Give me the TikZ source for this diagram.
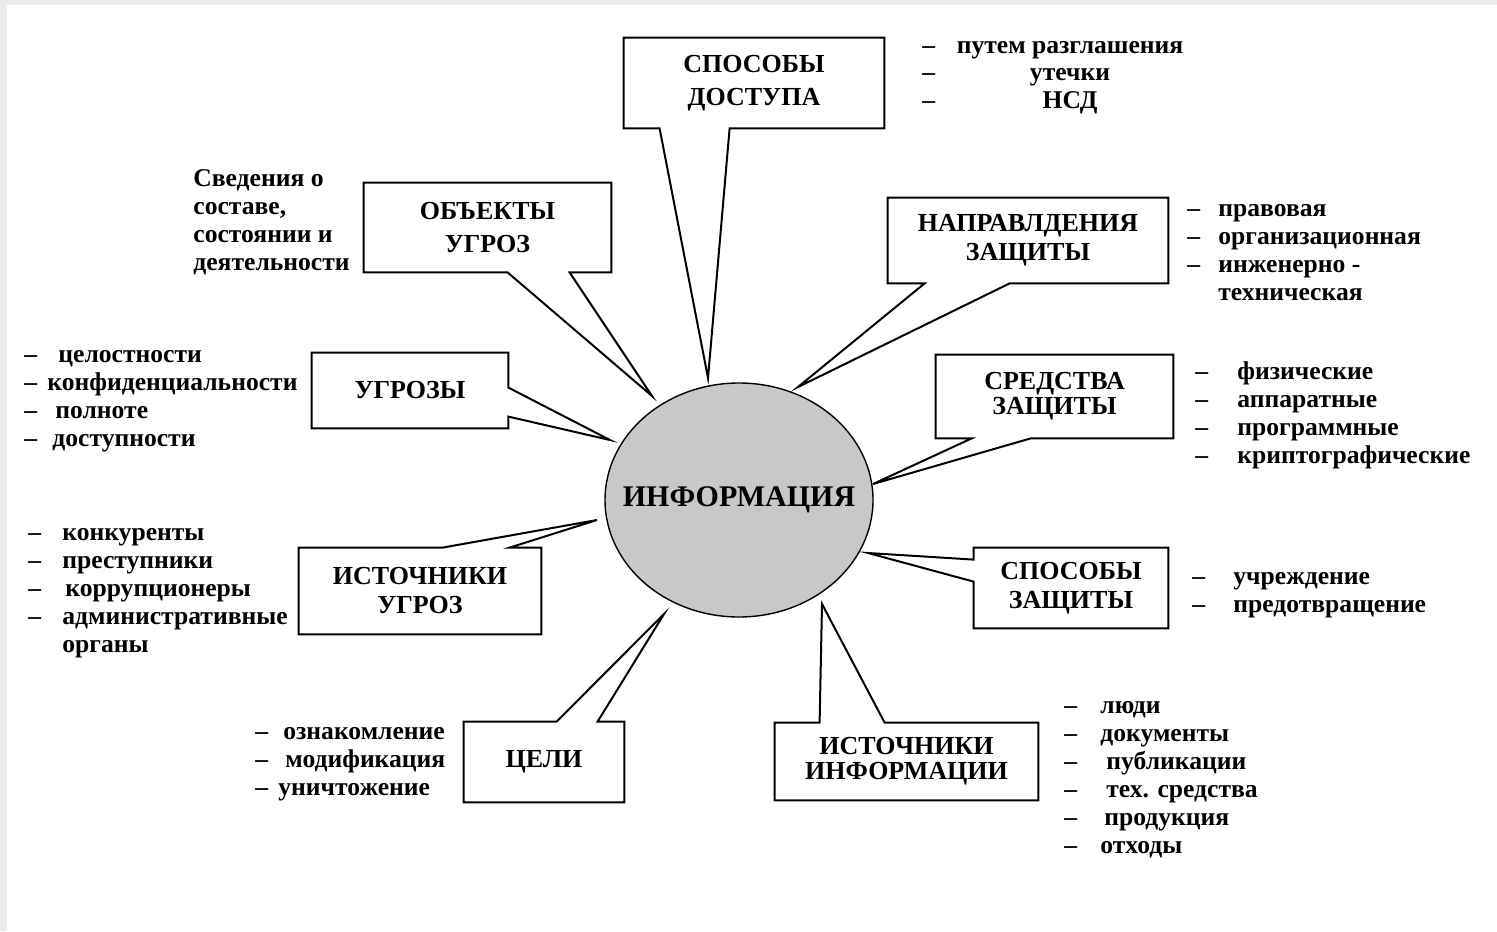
\documentclass[tikz,border=0pt]{standalone}
\usepackage{fontspec}
\setmainfont{Liberation Serif}
\usetikzlibrary{shapes.geometric,calc}
\definecolor{infogray}{RGB}{200,200,200}
\definecolor{framegray}{RGB}{235,235,235}

\begin{document}
\begin{tikzpicture}[x=0.5pt,y=-0.5pt,
  box/.style={inner sep=0pt,align=center,font=\bfseries\fontsize{13}{14.5}\selectfont},
  lst/.style={inner sep=0pt,align=left,anchor=base west,font=\bfseries\fontsize{12.8}{14}\selectfont},
  outl/.style={line width=1pt,line join=miter}]
  \useasboundingbox (0,0) rectangle (1497,931);
  \fill[framegray] (0,0) rectangle (1497,931);
  \fill[white] (7,5) rectangle (1497,931);
  % central node
  \node[ellipse,draw,line width=0.7pt,fill=infogray,minimum width=134pt,minimum height=117pt,inner sep=0pt] (info) at (739,500) {};
  \node[font=\bfseries\fontsize{15}{18}\selectfont,inner sep=0pt] (infot) at (info.center) {ИНФОРМАЦИЯ};
  % tips of the callouts
  \coordinate (t1) at (708,378);
  \coordinate (t2) at (652,396);
  \coordinate (t3) at (798,387);
  \coordinate (t4) at (610,440);
  \coordinate (t5) at (873,484);
  \coordinate (t6) at (868,553);
  \coordinate (t7) at (597,520);
  \coordinate (t8) at (664,614);
  \coordinate (t9) at (822,604);
  % upper callouts
  \node[box,minimum width=130pt,minimum height=45pt] (dost) at (754,83) {СПОСОБЫ\\[2pt]ДОСТУПА};
  \draw[outl] (dost.north west) -- (dost.north east) -- (dost.south east) -- ($(dost.south west)+(106,0)$)
        -- (t1) -- ($(dost.south west)+(36,0)$) -- (dost.south west) -- cycle;
  \node[box,minimum width=123.5pt,minimum height=44.5pt] (obj) at (487.5,227.5) {ОБЪЕКТЫ\\[2pt]УГРОЗ};
  \draw[outl] (obj.north west) -- (obj.north east) -- (obj.south east) -- ($(obj.south west)+(206,0)$)
        -- (t2) -- ($(obj.south west)+(144,0)$) -- (obj.south west) -- cycle;
  \node[box,minimum width=140pt,minimum height=42.5pt] (napr) at (1028,240.5) {НАПРАВЛДЕНИЯ\\ЗАЩИТЫ};
  \draw[outl] (napr.north west) -- (napr.north east) -- (napr.south east) -- ($(napr.south west)+(122,0)$)
        -- (t3) -- ($(napr.south west)+(37,0)$) -- (napr.south west) -- cycle;
  \node[box,minimum width=98pt,minimum height=37.5pt] (ugr) at (410,390.5) {УГРОЗЫ};
  \draw[outl] (ugr.north west) -- (ugr.north east) -- ($(ugr.north east)+(0,35)$) -- (t4)
        -- ($(ugr.north east)+(0,64)$) -- (ugr.south east) -- (ugr.south west) -- cycle;
  \node[box,minimum width=118.5pt,minimum height=41.5pt] (sredst) at (1054.5,396.5) {СРЕДСТВА\\[-2pt]ЗАЩИТЫ};
  \draw[outl] (sredst.north west) -- (sredst.north east) -- (sredst.south east) -- ($(sredst.south west)+(95,0)$)
        -- (t5) -- ($(sredst.south west)+(36,0)$) -- (sredst.south west) -- cycle;
  % lower callouts
  \node[box,minimum width=97pt,minimum height=40pt] (spzasch) at (1071,588) {СПОСОБЫ\\ЗАЩИТЫ};
  \draw[outl] (spzasch.north west) -- (spzasch.north east) -- (spzasch.south east) -- (spzasch.south west)
        -- ($(spzasch.north west)+(0,34)$) -- (t6) -- ($(spzasch.north west)+(0,12)$) -- cycle;
  \node[box,minimum width=121pt,minimum height=43pt] (istugr) at (420,591) {ИСТОЧНИКИ\\УГРОЗ};
  \draw[outl] (istugr.north west) -- ($(istugr.north west)+(144,0)$) -- (t7) -- ($(istugr.north west)+(211,0)$)
        -- (istugr.north east) -- (istugr.south east) -- (istugr.south west) -- cycle;
  \node[box,minimum width=80pt,minimum height=40pt] (celi) at (544,762) {ЦЕЛИ};
  \draw[outl] (celi.north west) -- ($(celi.north west)+(93,0)$) -- (t8) -- ($(celi.north west)+(134,0)$)
        -- (celi.north east) -- (celi.south east) -- (celi.south west) -- cycle;
  \node[box,minimum width=131.5pt,minimum height=38.5pt] (istinf) at (906.5,761.5) {ИСТОЧНИКИ\\[-2pt]ИНФОРМАЦИИ};
  \draw[outl] (istinf.north west) -- ($(istinf.north west)+(45,0)$) -- (t9) -- ($(istinf.north west)+(110,0)$)
        -- (istinf.north east) -- (istinf.south east) -- (istinf.south west) -- cycle;
  % lists beside the callouts (placed at the baseline of their last line)
  \node[lst] (dostd) at (922,109) {–\\–\\–};
  \node[lst,anchor=base,align=center] (dostl) at (1070,109) {путем разглашения\\утечки\\НСД};
  \node[lst] (objl) at (193,270) {Сведения о\\составе,\\состоянии и\\деятельности};
  \node[lst] (naprd) at (1187,300) {–\\–\\–\\\mbox{}};
  \node[lst] (naprl) at (1218,300) {правовая\\организационная\\инженерно -\\техническая};
  \node[lst] (ugrd) at (24,446) {–\\–\\–\\–};
  \node[lst] (ugrl) at (47,446) {\hspace{5.5pt}целостности\\конфиденциальности\\\hspace{4pt}полноте\\\hspace{2.5pt}доступности};
  \node[lst] (sredstd) at (1195,463) {–\\–\\–\\–};
  \node[lst] (sredstl) at (1237,463) {физические\\аппаратные\\программные\\криптографические};
  \node[lst] (spzaschd) at (1192,612) {–\\–};
  \node[lst] (spzaschl) at (1233,612) {учреждение\\предотвращение};
  \node[lst] (istugrd) at (28,652) {–\\–\\–\\–\\\mbox{}};
  \node[lst] (istugrl) at (62,652) {конкуренты\\преступники\\\hspace{1.5pt}коррупционеры\\административные\\органы};
  \node[lst] (celid) at (255,795) {–\\–\\–};
  \node[lst] (celil) at (283,795) {ознакомление\\\hspace{1pt}модификация\\\hspace{-2.5pt}уничтожение};
  \node[lst] (istinfd) at (1064,853) {–\\–\\–\\–\\–\\–};
  \node[lst] (istinfl) at (1100,853) {люди\\документы\\\hspace{3pt}публикации\\\hspace{3pt}тех. средства\\\hspace{2pt}продукция\\отходы};
\end{tikzpicture}
\end{document}
